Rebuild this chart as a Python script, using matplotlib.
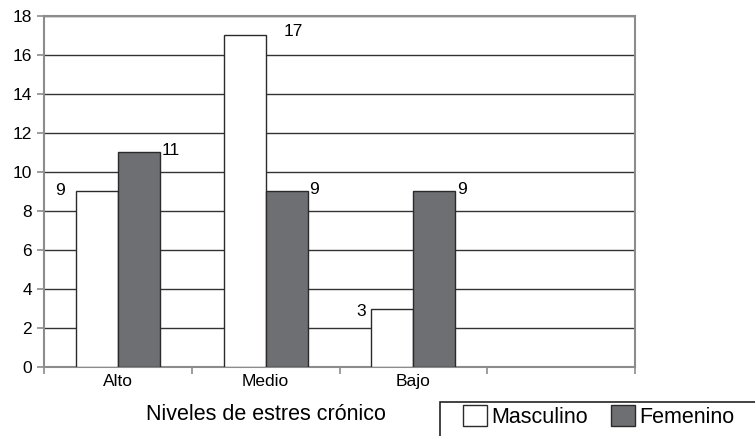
import matplotlib.pyplot as plt
from matplotlib.patches import Rectangle
import numpy as np

plt.rcParams['font.family'] = ['Liberation Sans', 'DejaVu Sans']

categories = ['Alto', 'Medio', 'Bajo']
masculino = [9, 17, 3]
femenino = [11, 9, 9]
y_ticks = [0, 2, 4, 6, 8, 10, 12, 14, 16, 18]

BAR_W = 42 / 148
GRAY = '#6e6f72'
EDGE = '#2a2a2a'
SPINE = '#8c8c8c'
W, H = 755, 436


def main():
    fig = plt.figure(figsize=(7.55, 4.36), dpi=100)
    ax = fig.add_axes([44 / W, 1 - 367 / H, 591 / W, 351 / H])

    x = np.arange(len(categories)) + 0.5
    b1 = ax.bar(x - BAR_W / 2, masculino, BAR_W, color='white',
                edgecolor=EDGE, linewidth=1.0, label='Masculino', zorder=3)
    b2 = ax.bar(x + BAR_W / 2, femenino, BAR_W, color=GRAY,
                edgecolor=EDGE, linewidth=1.0, label='Femenino', zorder=3)

    # value labels
    fs = 12.5
    ax.annotate(str(masculino[0]), (x[0] - BAR_W, masculino[0]), xytext=(-8, 1),
                textcoords='offset points', ha='right', va='center', fontsize=fs)
    ax.annotate(str(masculino[1]), (x[1], masculino[1]), xytext=(13, 3),
                textcoords='offset points', ha='left', va='center', fontsize=fs)
    ax.annotate(str(masculino[2]), (x[2] - BAR_W, masculino[2]), xytext=(-4, -2),
                textcoords='offset points', ha='right', va='center', fontsize=fs)
    for xi, v in zip(x, femenino):
        ax.annotate(str(v), (xi + BAR_W, v), xytext=(1, 1.5),
                    textcoords='offset points', ha='left', va='center', fontsize=fs)

    ax.set_xlim(0, 4)
    ax.set_ylim(0, 18)
    ax.set_yticks(y_ticks)
    ax.yaxis.grid(True, color='#333333', linewidth=1.0, zorder=0)
    ax.set_xticks([0, 1, 2, 3, 4])
    ax.set_xticklabels([])
    ax.set_xticks(x, minor=True)
    ax.set_xticklabels(categories, minor=True, fontsize=12.5)
    ax.tick_params(axis='x', which='minor', length=0, pad=5)
    ax.tick_params(axis='both', which='major', length=5, width=1.2,
                   color=SPINE, labelsize=12.5, direction='out')
    for s in ax.spines.values():
        s.set_color(SPINE)
        s.set_linewidth(1.5)

    ax.set_xlabel('Niveles de estres crónico', fontsize=15.5)
    ax.xaxis.set_label_coords(0.375, -0.105)

    # legend box runs off the right and bottom edges
    fig.patches.append(Rectangle((440 / W, -0.05), 0.5, (0.05 + 1 - 402 / H),
                                 transform=fig.transFigure, facecolor='none',
                                 edgecolor='#222222', linewidth=1.2))
    fig.legend(handles=[b1, b2], loc='upper left',
               bbox_to_anchor=(463 / W, 1 - 405 / H), ncol=2,
               fontsize=15.5, frameon=False,
               handlelength=1.1, handleheight=1.1, handletextpad=0.2,
               columnspacing=1.1, borderpad=0.0, borderaxespad=0)

    fig.savefig('out.png', dpi=100)


if __name__ == '__main__':
    main()
